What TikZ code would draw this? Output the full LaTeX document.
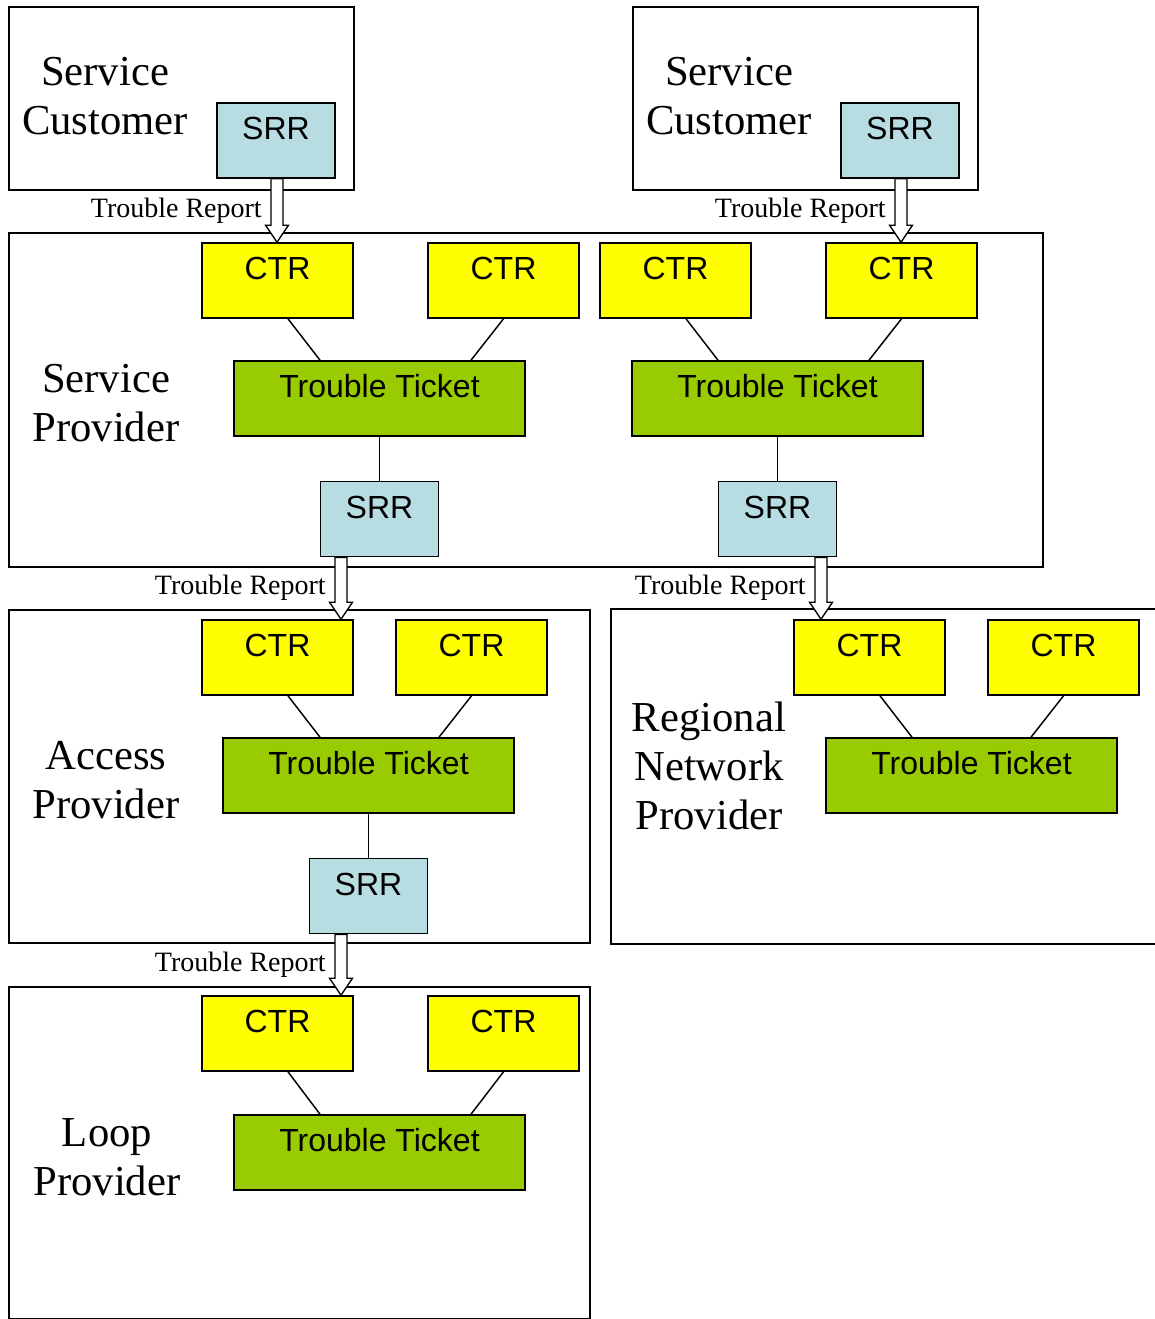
\documentclass[tikz,border=0pt]{standalone}
\usepackage{fontspec}
\setmainfont{Liberation Serif}
\setsansfont{Liberation Sans}
\usetikzlibrary{positioning,calc}
\definecolor{srrblue}{RGB}{183,221,226}
\definecolor{ttgreen}{RGB}{153,204,0}
\definecolor{ctryellow}{RGB}{255,255,0}
% hollow block arrow from an SRR down into a CTR, at a given x
\newcommand{\reportarrow}[3]{%
  \coordinate (ax) at (#3,0);
  \draw[hollow] ($(#1.south -| ax)+(-6,0)$) -- ($(#2.north -| ax)+(-6,-17)$)
    -- ($(#2.north -| ax)+(-11.5,-17)$) -- (#2.north -| ax)
    -- ($(#2.north -| ax)+(11.5,-17)$) -- ($(#2.north -| ax)+(6,-17)$)
    -- ($(#1.south -| ax)+(6,0)$) -- cycle;}

\begin{document}
\begin{tikzpicture}[x=0.75pt,y=-0.75pt,every node/.style={inner sep=0pt},
	party/.style={draw,line width=1.5pt,anchor=north west},
	who/.style={font=\fontsize{32}{36.75}\selectfont,align=center},
	inbox/.style={draw,line width=1.2pt,font=\sffamily\fontsize{24}{28}\selectfont,
		text height=17.2pt,text depth=18.8pt,minimum height=56.25pt},
	ctr/.style={inbox,fill=ctryellow,minimum width=113.25pt},
	ticket/.style={inbox,fill=ttgreen,minimum width=218.25pt},
	srr/.style={inbox,fill=srrblue,minimum width=88.5pt},
	report/.style={font=\fontsize{21}{24}\selectfont,anchor=east},
	hollow/.style={draw,line width=1pt,fill=white,line join=miter},
	link/.style={line width=1.1pt}]
	\useasboundingbox (0,0) rectangle (1154,1319);

	% the parties
	\node[party,minimum width=258.75pt,minimum height=137.25pt] (sc1) at (8,6) {};
	\node[party,minimum width=258.75pt,minimum height=137.25pt] (sc2) at (632,6) {};
	\node[party,minimum width=775.5pt,minimum height=250.5pt] (sp) at (8,232) {};
	\node[party,minimum width=435.75pt,minimum height=249.75pt] (ap) at (8,609) {};
	\node[party,draw=none,minimum width=407.25pt,minimum height=249.75pt] (rnp) at (611,609) {};
	\draw[line width=1.5pt] (rnp.north east) -- (rnp.north west) -- (rnp.south west) -- (rnp.south east);
	\node[party,minimum width=435.75pt,minimum height=249pt] (lp) at (8,986) {};

	\node[who] (scl1) at (105,96) {Service\\Customer};
	\node[who] (scl2) at (729,96) {Service\\Customer};
	\node[who] (spl) at (106,403) {Service\\Provider};
	\node[who] (apl) at (106,780) {Access\\Provider};
	\node[who] (rnpl) at (709,766) {Regional\\Network\\Provider};
	\node[who] (lpl) at (107,1157) {Loop\\Provider};

	% service customers
	\node[srr] (srr1) at (276,140.5) {SRR};
	\node[srr] (srr2) at (900,140.5) {SRR};

	% service provider
	\node[ctr] (sp1) at (277.5,280.5) {CTR};
	\node[ctr] (sp2) at (503.5,280.5) {CTR};
	\node[ctr] (sp3) at (675.5,280.5) {CTR};
	\node[ctr] (sp4) at (901.5,280.5) {CTR};
	\node[ticket] (spt1) at (379.5,398.5) {Trouble Ticket};
	\node[ticket] (spt2) at (777.5,398.5) {Trouble Ticket};
	\node[srr] (srr3) [below=33pt of spt1] {SRR};
	\node[srr] (srr4) [below=33pt of spt2] {SRR};

	% access provider
	\node[ctr] (ap1) at (277.5,657.5) {CTR};
	\node[ctr] (ap2) at (471.5,657.5) {CTR};
	\node[ticket] (apt) at (368.5,775.5) {Trouble Ticket};
	\node[srr] (srr5) [below=33pt of apt] {SRR};

	% regional network provider
	\node[ctr] (rn1) at (869.5,657.5) {CTR};
	\node[ctr] (rn2) at (1063.5,657.5) {CTR};
	\node[ticket] (rnt) at (971.5,775.5) {Trouble Ticket};

	% loop provider
	\node[ctr] (lp1) at (277.5,1033.5) {CTR};
	\node[ctr] (lp2) at (503.5,1033.5) {CTR};
	\node[ticket] (lpt) at (379.5,1152.5) {Trouble Ticket};

	\path[link,draw]
	($(sp1.south)+(10.5,0)$) edge ($(spt1.north)+(-59.5,0)$)
	(sp2.south) edge ($(spt1.north)+(91.5,0)$)
	($(sp3.south)+(10.5,0)$) edge ($(spt2.north)+(-59.5,0)$)
	(sp4.south) edge ($(spt2.north)+(91.5,0)$)
	(spt1.south) edge (srr3.north)
	(spt2.south) edge (srr4.north)
	($(ap1.south)+(10.5,0)$) edge ($(apt.north)+(-48.5,0)$)
	(ap2.south) edge ($(apt.north)+(70.5,0)$)
	(apt.south) edge (srr5.north)
	($(rn1.south)+(10.5,0)$) edge ($(rnt.north)+(-59.5,0)$)
	(rn2.south) edge ($(rnt.north)+(59.5,0)$)
	($(lp1.south)+(10.5,0)$) edge ($(lpt.north)+(-59.5,0)$)
	(lp2.south) edge ($(lpt.north)+(91.5,0)$);

	% trouble reports
	\reportarrow{srr1}{sp1}{277}
	\reportarrow{srr2}{sp4}{901}
	\reportarrow{srr3}{ap1}{341}
	\reportarrow{srr4}{rn1}{821}
	\reportarrow{srr5}{lp1}{341}
	\node[report] (tr1) at (262,211) {Trouble Report};
	\node[report] (tr2) at (886,211) {Trouble Report};
	\node[report] (tr3) at (326,588) {Trouble Report};
	\node[report] (tr4) at (806,588) {Trouble Report};
	\node[report] (tr5) at (326,965) {Trouble Report};
\end{tikzpicture}
\end{document}
